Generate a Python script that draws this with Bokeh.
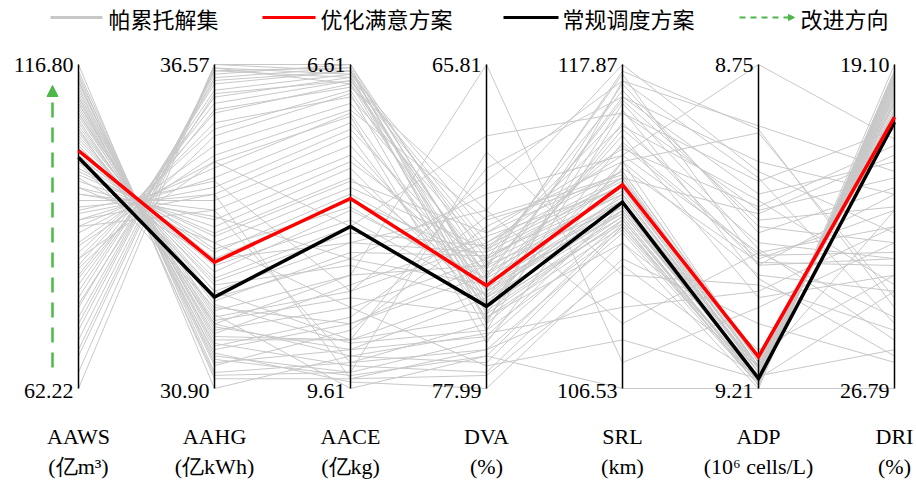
from bokeh.plotting import figure
from bokeh.models import Range1d, Arrow, NormalHead
from bokeh.core.properties import value
from bokeh.embed import file_html
from bokeh.resources import INLINE

# ---------------- data ----------------
axis_names = ["AAWS", "AAHG", "AACE", "DVA", "SRL", "ADP", "DRI"]
axis_units = ["(亿m³)", "(亿kWh)", "(亿kg)", "(%)", "(km)", "(10⁶ cells/L)", "(%)"]
axis_top = [116.80, 36.57, 6.61, 65.81, 117.87, 8.75, 19.10]
axis_bottom = [62.22, 30.90, 9.61, 77.99, 106.53, 9.21, 26.79]
top_labels = ["116.80", "36.57", "6.61", "65.81", "117.87", "8.75", "19.10"]
bottom_labels = ["62.22", "30.90", "9.61", "77.99", "106.53", "9.21", "26.79"]

legend_labels = ["帕累托解集", "优化满意方案", "常规调度方案", "改进方向"]

pareto_aaws = [
    115.71, 114.62, 113.53, 112.43, 111.34, 110.25, 109.16, 108.07, 106.98, 105.88,
    104.79, 103.70, 102.61, 101.52, 100.43, 99.33, 98.24, 97.15, 96.06, 94.97,
    93.88, 92.78, 91.69, 90.60, 89.51, 115.16, 114.07, 111.89, 110.80, 109.70,
    107.52, 106.43, 105.34, 104.25, 103.15, 112.98, 108.61, 102.06, 100.97, 98.79,
    86.78, 85.14, 84.05, 82.96, 81.32, 79.69, 78.59, 77.50, 75.86, 74.23,
    73.14, 70.41, 67.68, 64.95, 62.22, 86.24, 82.41, 80.78, 76.41, 72.04,
    88.42, 68.77,
    105.88, 114.07, 110.25, 111.34, 94.97, 108.61, 116.80, 97.70, 92.24, 100.43,
    89.51, 96.06, 84.05, 103.15, 90.60]
pareto_aahg = [
    31.18, 31.35, 31.47, 31.58, 31.75, 31.92, 32.03, 32.15, 32.26, 32.49,
    32.60, 32.83, 32.94, 33.05, 33.28, 33.45, 33.62, 33.73, 33.85, 34.02,
    34.19, 34.30, 34.42, 34.59, 34.76, 31.07, 31.30, 31.64, 31.69, 31.86,
    32.09, 32.37, 32.43, 32.71, 32.77, 31.41, 31.98, 33.17, 33.34, 33.56,
    35.15, 35.44, 35.55, 35.72, 35.89, 36.00, 36.12, 36.23, 36.29, 36.34,
    36.40, 36.46, 36.51, 36.57, 36.57, 34.98, 35.32, 35.78, 36.06, 36.46,
    34.87, 36.51,
    32.03, 31.13, 31.81, 31.52, 33.91, 32.20, 30.90, 33.17, 34.53, 32.32,
    34.02, 33.45, 34.87, 32.60, 34.30]
pareto_aace = [
    9.37, 9.25, 9.46, 9.01, 9.16, 8.86, 9.31, 8.71, 8.56, 8.41,
    8.26, 8.11, 7.96, 8.05, 7.81, 7.75, 7.66, 7.57, 7.51, 7.45,
    7.36, 7.27, 7.21, 7.15, 7.06, 9.52, 9.07, 8.95, 9.40, 8.65,
    8.77, 9.19, 8.35, 8.47, 8.17, 9.49, 9.25, 7.87, 7.93, 7.69,
    6.97, 6.85, 6.91, 6.79, 6.76, 6.73, 6.70, 6.67, 6.67, 6.64,
    6.61, 6.64, 6.70, 6.67, 6.61, 7.03, 6.88, 6.82, 6.76, 6.73,
    7.09, 6.79,
    8.56, 9.46, 9.16, 9.55, 8.41, 9.61, 9.31, 8.26, 8.71, 9.01,
    9.37, 8.86, 8.11, 9.16, 9.52]
pareto_dva = [
    75.55, 74.58, 76.16, 73.73, 74.34, 73.12, 77.02, 72.51, 73.36, 74.09,
    72.87, 74.95, 73.85, 74.46, 73.48, 72.75, 74.21, 74.82, 73.24, 73.97,
    74.58, 75.31, 73.61, 74.34, 75.07, 76.53, 71.90, 71.53, 77.38, 72.27,
    75.19, 75.80, 73.00, 74.70, 72.63, 76.77, 76.04, 73.12, 74.09, 72.14,
    73.36, 74.34, 72.87, 74.95, 73.85, 72.51, 75.55, 74.58, 73.12, 74.09,
    73.48, 75.19, 72.14, 74.82, 74.21, 71.66, 75.80, 71.29, 72.75, 75.43,
    76.28, 73.73,
    65.81, 69.10, 69.71, 77.99, 70.68, 76.77, 75.92, 71.29, 70.19, 73.36,
    76.53, 77.14, 68.49, 75.31, 77.50]
pareto_srl = [
    112.77, 113.33, 112.43, 113.56, 113.11, 113.90, 112.20, 114.13, 112.88, 112.65,
    113.67, 112.54, 113.22, 112.99, 113.45, 113.79, 112.77, 112.31, 113.33, 112.88,
    112.54, 112.20, 113.11, 112.65, 112.43, 111.97, 114.47, 114.01, 111.63, 113.56,
    112.43, 112.09, 113.33, 112.77, 113.90, 112.31, 112.99, 113.67, 113.11, 114.13,
    115.04, 115.60, 116.17, 114.47, 116.74, 114.69, 117.30, 115.83, 116.96, 115.38,
    117.64, 116.51, 114.92, 114.24, 117.19, 113.90, 116.28, 117.87, 115.72, 115.15,
    114.47, 116.62,
    107.44, 110.50, 116.74, 111.07, 114.69, 106.53, 109.37, 108.80, 117.30, 117.53,
    109.93, 108.23, 116.17, 111.63, 110.84]
pareto_adp = [
    9.196, 9.187, 9.201, 9.178, 9.192, 9.182, 9.205, 9.173, 9.196, 9.187,
    9.169, 9.201, 9.182, 9.192, 9.178, 9.164, 9.196, 9.205, 9.187, 9.192,
    9.201, 9.196, 9.182, 9.192, 9.201, 9.205, 9.173, 9.178, 9.210, 9.187,
    9.196, 9.201, 9.182, 9.192, 9.173, 9.205, 9.196, 9.178, 9.187, 9.169,
    9.026, 9.003, 8.957, 9.049, 8.934, 9.017, 8.911, 9.035, 8.980, 9.081,
    8.842, 9.012, 8.952, 9.031, 8.989, 8.962, 9.054, 8.902, 8.943, 9.021,
    8.847, 8.971,
    9.095, 9.063, 8.888, 9.118, 8.750, 9.210, 9.072, 9.017, 8.837, 9.035,
    9.192, 9.196, 8.916, 9.155, 9.178]
pareto_dri = [
    19.48, 19.72, 19.33, 19.87, 19.56, 20.02, 19.25, 20.18, 19.79, 19.64,
    20.33, 19.41, 19.95, 19.72, 20.10, 20.48, 19.56, 19.33, 19.87, 19.64,
    19.48, 19.41, 20.02, 19.72, 19.33, 19.10, 20.25, 20.18, 19.25, 19.79,
    19.48, 19.41, 19.95, 19.64, 20.41, 19.25, 19.56, 20.02, 19.79, 20.25,
    22.56, 23.71, 21.79, 24.48, 21.41, 22.95, 25.25, 22.18, 23.33, 24.10,
    24.87, 25.64, 21.02, 23.87, 22.02, 21.25, 26.02, 23.10, 24.33, 23.56,
    24.64, 22.48,
    23.33, 25.41, 22.18, 26.17, 20.87, 26.79, 22.95, 25.10, 21.64, 23.71,
    25.87, 24.48, 20.64, 24.10, 22.56]

optimized = [102.30, 33.11, 7.85, 74.12, 113.66, 9.165, 20.35]
conventional = [101.14, 32.50, 8.11, 74.90, 113.05, 9.196, 20.47]

# ---------------- layout helpers (page pixels -> data) ----------------
def px(x):
    return (x - 78) / 136.0

def py(y):
    return (388 - y) / 324.0

def norm(v, k):
    return (v - axis_bottom[k]) / (axis_top[k] - axis_bottom[k])

SERIF = value("Liberation Serif")
CJK = value("Noto Sans CJK SC")

p = figure(width=916, height=480, output_backend="svg", toolbar_location=None,
           x_axis_type=None, y_axis_type=None,
           x_range=Range1d(px(0), px(916)), y_range=Range1d(py(480), py(0)),
           min_border=0, outline_line_color=None)
p.grid.visible = False

n_axes = len(axis_names)
xi = list(range(n_axes))
cols = [pareto_aaws, pareto_aahg, pareto_aace, pareto_dva, pareto_srl, pareto_adp, pareto_dri]
n = len(pareto_aaws)
xs = [xi for _ in range(n)]
ys = [[norm(cols[k][i], k) for k in range(n_axes)] for i in range(n)]

p.multi_line(xs=xs, ys=ys, line_color="#c8c8c8", line_width=1)

# vertical axes
p.segment(x0=xi, y0=[0] * n_axes, x1=xi, y1=[1] * n_axes, line_color="black", line_width=1.5)

p.line(x=xi, y=[norm(conventional[k], k) for k in xi], line_color="black", line_width=3.5,
       line_join="miter")
p.line(x=xi, y=[norm(optimized[k], k) for k in xi], line_color="#ff0000", line_width=3.5,
       line_join="miter")

# tick labels
p.text(x=xi, y=[1] * n_axes, text=top_labels, x_offset=-5, text_align="right",
       text_baseline="middle", text_font=SERIF, text_font_size="22px", text_color="black")
p.text(x=xi, y=[py(390)] * n_axes, text=bottom_labels, x_offset=-5, text_align="right",
       text_baseline="middle", text_font=SERIF, text_font_size="22px", text_color="black")
# axis names
p.text(x=xi, y=[py(436)] * n_axes, text=axis_names, text_align="center",
       text_baseline="middle", text_font=SERIF, text_font_size="22px", text_color="black")
p.text(x=xi, y=[py(466)] * n_axes, text=axis_units, text_align="center",
       text_baseline="middle", text_font=SERIF, text_font_size="22px", text_color="black")

GREEN = "#4cb848"
# improvement direction arrow
p.add_layout(Arrow(end=NormalHead(size=11, fill_color=GREEN, line_color=GREEN, line_width=1),
                   x_start=px(52), y_start=py(367), x_end=px(52), y_end=py(85),
                   line_color=GREEN, line_width=2.5, line_dash="15 10"))

# legend
ly = py(17)
p.segment(x0=[px(50), px(262), px(503)], y0=[ly] * 3, x1=[px(102), px(315), px(558)],
          y1=[ly] * 3, line_color=["#c8c8c8", "#ff0000", "black"], line_width=3)
p.add_layout(Arrow(end=NormalHead(size=6, fill_color=GREEN, line_color=GREEN, line_width=1),
                   x_start=px(739), y_start=ly, x_end=px(794), y_end=ly,
                   line_color=GREEN, line_width=2, line_dash="6 5"))
p.text(x=[px(108), px(320), px(562), px(800)], y=[ly] * 4, text=legend_labels,
       text_align="left", text_baseline="middle", text_font=CJK, text_font_size="22px",
       text_color="black")

open("out.html", "w").write(file_html(p, INLINE))
